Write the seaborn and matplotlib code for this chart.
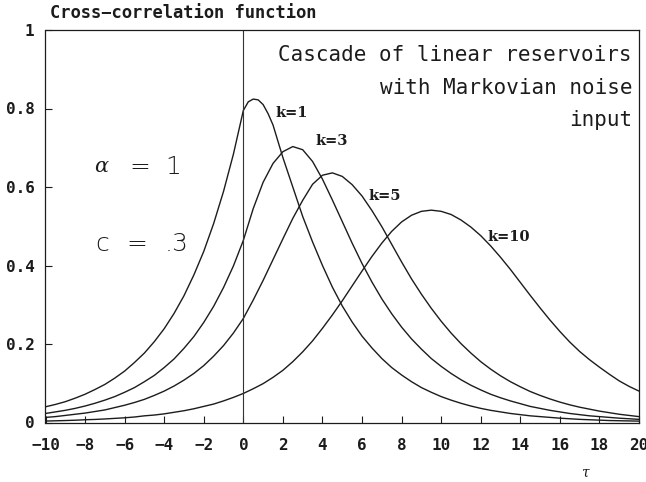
import numpy as np
import pandas as pd
import matplotlib
matplotlib.use("Agg")
import matplotlib.pyplot as plt
import seaborn as sns

# Lag axis in half steps; the k=1 curve gets extra quarter steps around its peak
tau = [i * 0.5 for i in range(-20, 41)]
tau_k1_extra = [0.25, 0.75, 1.25]

# Cross-correlation between Markovian input and output of a cascade of k reservoirs
ccf_k1 = [0.040, 0.046, 0.053, 0.062, 0.072, 0.084, 0.097, 0.113, 0.131, 0.153,
          0.177, 0.206, 0.239, 0.278, 0.323, 0.376, 0.436, 0.507, 0.589, 0.684,
          0.795, 0.824, 0.810, 0.758, 0.675, 0.600, 0.525, 0.460, 0.400, 0.345,
          0.297, 0.256, 0.220, 0.190, 0.163, 0.140, 0.121, 0.104, 0.089, 0.077,
          0.066, 0.057, 0.049, 0.042, 0.036, 0.031, 0.027, 0.023, 0.020, 0.017,
          0.015, 0.013, 0.011, 0.0095, 0.008, 0.007, 0.006, 0.005, 0.0045, 0.004,
          0.0035]
ccf_k1_extra = [0.817, 0.822, 0.787]
ccf_k3 = [0.023, 0.027, 0.031, 0.036, 0.042, 0.049, 0.057, 0.066, 0.077, 0.089,
          0.104, 0.120, 0.140, 0.162, 0.189, 0.219, 0.255, 0.296, 0.344, 0.399,
          0.464, 0.545, 0.612, 0.660, 0.690, 0.703, 0.695, 0.665, 0.620, 0.567,
          0.512, 0.457, 0.405, 0.358, 0.315, 0.277, 0.243, 0.213, 0.187, 0.163,
          0.143, 0.125, 0.109, 0.095, 0.083, 0.072, 0.063, 0.055, 0.048, 0.041,
          0.036, 0.031, 0.027, 0.023, 0.020, 0.017, 0.015, 0.013, 0.011, 0.0095,
          0.008]
ccf_k5 = [0.013, 0.015, 0.018, 0.021, 0.024, 0.028, 0.032, 0.038, 0.044, 0.051,
          0.059, 0.069, 0.080, 0.093, 0.108, 0.125, 0.145, 0.169, 0.196, 0.228,
          0.265, 0.312, 0.362, 0.415, 0.468, 0.520, 0.566, 0.607, 0.630, 0.636,
          0.627, 0.606, 0.577, 0.540, 0.499, 0.454, 0.409, 0.366, 0.327, 0.291,
          0.258, 0.228, 0.201, 0.177, 0.155, 0.136, 0.119, 0.104, 0.091, 0.079,
          0.069, 0.060, 0.052, 0.045, 0.039, 0.034, 0.029, 0.025, 0.021, 0.018,
          0.015]
ccf_k10 = [0.0037, 0.0043, 0.005, 0.0058, 0.007, 0.0078, 0.009, 0.0105, 0.012, 0.014,
           0.017, 0.019, 0.022, 0.026, 0.030, 0.035, 0.041, 0.047, 0.055, 0.064,
           0.074, 0.086, 0.099, 0.115, 0.133, 0.155, 0.180, 0.208, 0.240, 0.274,
           0.310, 0.348, 0.386, 0.423, 0.457, 0.487, 0.511, 0.528, 0.538, 0.541,
           0.538, 0.530, 0.516, 0.498, 0.476, 0.450, 0.421, 0.390, 0.357, 0.324,
           0.292, 0.261, 0.232, 0.205, 0.181, 0.160, 0.141, 0.123, 0.106, 0.092,
           0.080]

curve_labels = ["k=1", "k=3", "k=5", "k=10"]
x_ticks = list(range(-10, 21, 2))
y_ticks = [0, 0.2, 0.4, 0.6, 0.8, 1]
y_tick_labels = ["0", "0.2", "0.4", "0.6", "0.8", "1"]

frames = [
    pd.DataFrame({"tau": tau + tau_k1_extra, "ccf": ccf_k1 + ccf_k1_extra, "k": "k=1"}),
    pd.DataFrame({"tau": tau, "ccf": ccf_k3, "k": "k=3"}),
    pd.DataFrame({"tau": tau, "ccf": ccf_k5, "k": "k=5"}),
    pd.DataFrame({"tau": tau, "ccf": ccf_k10, "k": "k=10"}),
]
df = pd.concat(frames).sort_values(["k", "tau"])

sns.set_theme(style="white")
plt.rcParams["axes.unicode_minus"] = True

fig = plt.figure(figsize=(6.46, 4.82), dpi=100)
ax = fig.add_axes([45.5 / 646, (482 - 422.5) / 482, 593.5 / 646, 392.5 / 482])

ink = "#1c1c1c"
sns.lineplot(data=df, x="tau", y="ccf", hue="k", hue_order=curve_labels,
             palette=[ink] * 4, estimator=None, sort=True, legend=False,
             linewidth=1.0, ax=ax)
ax.axvline(0, color="#333333", linewidth=0.8)

ax.set_xlim(-10, 20)
ax.set_ylim(0, 1)
ax.set_xlabel("")
ax.set_ylabel("")

mono_bold = dict(family="DejaVu Sans Mono", weight="bold", size=11.5)
ax.set_xticks(x_ticks)
ax.set_xticklabels([f"{t}".replace("-", "\u2212") for t in x_ticks], fontdict=mono_bold)
ax.set_yticks(y_ticks)
ax.set_yticklabels(y_tick_labels, fontdict=mono_bold)
ax.tick_params(axis="both", direction="in", length=5, width=0.8, color=ink,
               bottom=True, left=True, top=False, right=False, labelcolor=ink)
ax.tick_params(axis="x", pad=11)
ax.tick_params(axis="y", pad=8)
for sp in ax.spines.values():
    sp.set_color(ink)
    sp.set_linewidth(0.9)

# Axis titles
fig.text(50 / 646, 1 - 13 / 482, "Cross\u2212correlation function", ha="left", va="center",
         color=ink, family="DejaVu Sans Mono", weight="bold", size=12.3)
fig.text(585 / 646, 1 - 473 / 482, "\u03c4", ha="center", va="center", color=ink,
         family="DejaVu Serif", style="italic", size=10)

# Title block inside the frame
box_font = dict(family="DejaVu Sans Mono", size=15, color=ink)
for txt, ypx in [("Cascade of linear reservoirs", 55), ("with Markovian noise", 88), ("input", 120)]:
    fig.text(632 / 646, 1 - ypx / 482, txt, ha="right", va="center", **box_font)

# Parameter annotations
par_font = dict(family="DejaVu Sans", weight="light", size=18, color=ink)
ax.text(-7.2, 0.652, "\u03b1", ha="center", va="center", family="DejaVu Serif",
        style="italic", size=15, color=ink)
ax.text(-5.25, 0.652, "=", ha="center", va="center", **par_font)
ax.text(-3.55, 0.652, "1", ha="center", va="center", **par_font)
ax.text(-7.15, 0.455, "c", ha="center", va="center", **par_font)
ax.text(-5.4, 0.455, "=", ha="center", va="center", **par_font)
ax.text(-3.4, 0.455, ".3", ha="center", va="center", **par_font)

# Curve labels
lab_font = dict(family="DejaVu Serif", weight="bold", size=10.5, color=ink)
for lab, (lx, ly) in zip(curve_labels, [(1.6, 0.789), (3.63, 0.718), (6.32, 0.577), (12.35, 0.473)]):
    ax.text(lx, ly, lab, ha="left", va="center", **lab_font)

fig.savefig("out.png", dpi=100)
